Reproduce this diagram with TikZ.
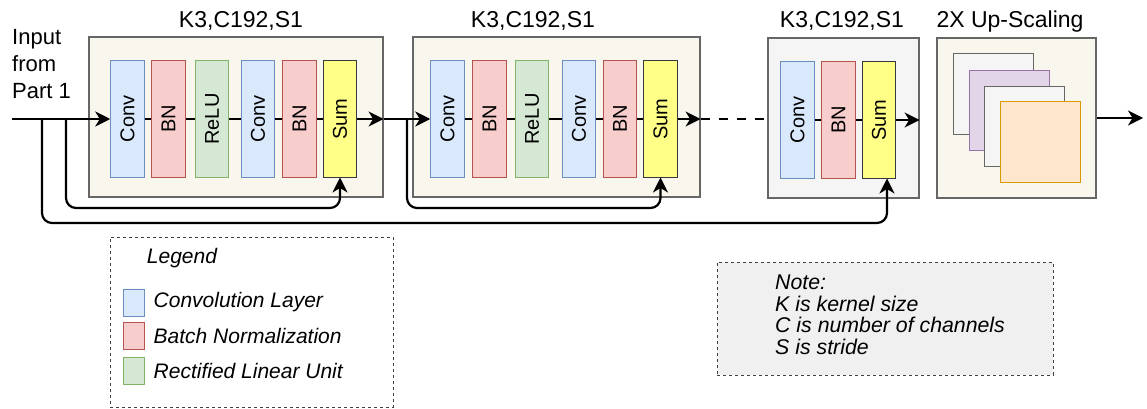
\documentclass[tikz,border=0pt]{standalone}
\usepackage{fontspec}
\setmainfont{Liberation Sans}
\usetikzlibrary{arrows.meta,positioning}
\definecolor{convfill}{HTML}{DAE8FC}\definecolor{convline}{HTML}{6C8EBF}
\definecolor{bnfill}{HTML}{F8CECC}\definecolor{bnline}{HTML}{B85450}
\definecolor{relufill}{HTML}{D5E8D4}\definecolor{reluline}{HTML}{82B366}
\definecolor{sumfill}{HTML}{FFFF88}\definecolor{sumline}{HTML}{36393D}
\definecolor{blockfill}{HTML}{F9F7ED}\definecolor{blockline}{HTML}{666666}
\definecolor{grayfill}{HTML}{F5F5F5}\definecolor{notefill}{HTML}{F0F0F0}
\definecolor{purplefill}{HTML}{E1D5E7}\definecolor{purpleline}{HTML}{9673A6}
\definecolor{orangefill}{HTML}{FFE6CC}\definecolor{orangeline}{HTML}{D79B00}
\tikzset{
	layer/.style={draw, line width=1pt, minimum width=33.5pt, minimum height=116pt, inner sep=0pt, font=\fontsize{20}{24}\selectfont},
	convlayer/.style={layer, fill=convfill, draw=convline},
	bnlayer/.style={layer, fill=bnfill, draw=bnline},
	relulayer/.style={layer, fill=relufill, draw=reluline},
	sumlayer/.style={layer, fill=sumfill, draw=sumline},
	block/.style={draw=blockline, fill=blockfill, line width=1.2pt, inner sep=0pt, minimum height=160pt},
	fmap/.style={line width=1pt, minimum size=80pt, inner sep=0pt},
	title/.style={font=\fontsize{23}{27}\selectfont, anchor=base, inner sep=0pt},
	link/.style={line width=2.2pt},
	flow/.style={line width=2.2pt, -{Stealth[length=15pt,width=15pt,inset=4.5pt]}},
	skip/.style={flow, rounded corners=10pt},
	dashbox/.style={draw=black!75, line width=1pt, dash pattern=on 3pt off 3pt, inner sep=0pt},
	swatch/.style={draw, line width=1pt, minimum width=21pt, minimum height=27pt, inner sep=0pt},
	legendtext/.style={font=\fontsize{21}{25}\selectfont\itshape, inner sep=0pt, anchor=west},
}
\newcommand{\vtext}[1]{\rotatebox{90}{#1}}

\begin{document}
\begin{tikzpicture}[x=1pt,y=-1pt]
	\useasboundingbox (0,0) rectangle (1147,409);
	
	%%%%% BLOCKS %%%%%
	\node[block, minimum width=294pt] (b1) at (236,117) {};
	\node[block, minimum width=287pt] (b2) at (556.5,117) {};
	\node[block, minimum width=151pt, fill=grayfill] (b3) at (843.5,118) {};
	\node[block, minimum width=159pt] (b4) at (1016.5,118) {};
	
	\node[title] (t1) at (241,28) {K3,C192,S1};
	\node[title] (t2) at (533,28) {K3,C192,S1};
	\node[title] (t3) at (842,28) {K3,C192,S1};
	\node[title] (t4) at (1010,28) {2X Up-Scaling};
	
	\node[font=\fontsize{22}{27}\selectfont, align=left, anchor=north west, inner sep=0pt] (input) at (12,29) {Input\\from\\Part 1};
	
	%%%%% LAYERS %%%%%
	\node[convlayer] (c1a) at (127.5,119) {\vtext{Conv}};
	\node[bnlayer] (n1a) at (168.5,119) {\vtext{BN}};
	\node[relulayer] (r1) at (212,119) {\vtext{ReLU}};
	\node[convlayer] (c1b) at (258,119) {\vtext{Conv}};
	\node[bnlayer] (n1b) at (299.5,119) {\vtext{BN}};
	\node[sumlayer] (s1) at (340,119) {\vtext{Sum}};
	
	\node[convlayer] (c2a) at (447.5,119) {\vtext{Conv}};
	\node[bnlayer] (n2a) at (489.5,119) {\vtext{BN}};
	\node[relulayer] (r2) at (532,119) {\vtext{ReLU}};
	\node[convlayer] (c2b) at (579,119) {\vtext{Conv}};
	\node[bnlayer] (n2b) at (620,119) {\vtext{BN}};
	\node[sumlayer] (s2) at (660.5,119) {\vtext{Sum}};
	
	\node[convlayer] (c3) at (797.5,120) {\vtext{Conv}};
	\node[bnlayer] (n3) at (838.5,120) {\vtext{BN}};
	\node[sumlayer] (s3) at (879,120) {\vtext{Sum}};
	
	\node[fmap, fill=grayfill, draw=blockline] (f1) at (993,94) {};
	\node[fmap, fill=purplefill, draw=purpleline] (f2) at (1009,110.5) {};
	\node[fmap, fill=grayfill, draw=blockline] (f3) at (1024.5,126.5) {};
	\node[fmap, fill=orangefill, draw=orangeline] (f4) at (1040.5,142) {};
	
	%%%%% CONNECTORS %%%%%
	\coordinate (in) at (12,119);
	\coordinate (tap0) at (42,119);
	\coordinate (tap1) at (66,119);
	\coordinate (tap2) at (407,119);
	\coordinate (out) at (1143,118);
	
	\draw[flow] (in) -- (c1a);
	\draw[link] (c1a) -- (n1a) -- (r1) -- (c1b) -- (n1b) -- (s1);
	\draw[flow] (s1) -- (b1.east |- s1);
	\draw[flow] (b1.east |- s1) -- (c2a);
	\draw[link] (c2a) -- (n2a) -- (r2) -- (c2b) -- (n2b) -- (s2);
	\draw[flow] (s2) -- (b2.east |- s2);
	\draw[link, dash pattern=on 9pt off 9pt] (b2.east |- s2) -- (b3.west |- s2);
	\draw[link] (c3) -- (n3) -- (s3);
	\draw[flow] (s3) -- (b3.east |- s3);
	\draw[flow] (b4.east) -- (out);
	
	\draw[skip] (tap1) -- ++(0,89) -| (s1);
	\draw[skip] (tap2) -- ++(0,89) -| (s2);
	\draw[skip] (tap0) -- ++(0,104) -| ([xshift=8pt]s3.south);
	
	%%%%% LEGEND %%%%%
	\node[dashbox, minimum width=283pt, minimum height=170pt] (legend) at (251.5,322) {};
	\node[font=\fontsize{21}{25}\selectfont\itshape, inner sep=0pt] (ltitle) at (182,258) {Legend};
	\node[swatch, fill=convfill, draw=convline] (sw1) at (133.5,302.5) {};
	\node[swatch, fill=bnfill, draw=bnline] (sw2) at (133.5,336) {};
	\node[swatch, fill=relufill, draw=reluline] (sw3) at (133.5,371) {};
	\node[legendtext, right=9pt of sw1] (l1) {Convolution Layer};
	\node[legendtext, right=9pt of sw2] (l2) {Batch Normalization};
	\node[legendtext, right=9pt of sw3] (l3) {Rectified Linear Unit};
	
	%%%%% NOTE %%%%%
	\node[dashbox, fill=notefill, minimum width=336pt, minimum height=113pt] (note) at (885,318.5) {};
	\node[font=\fontsize{21.3}{21.7}\selectfont\itshape, align=left, anchor=north west, inner sep=0pt] (notetext) at (775,274.5) {Note:\\K is kernel size\\C is number of channels\\S is stride};
\end{tikzpicture}
\end{document}
